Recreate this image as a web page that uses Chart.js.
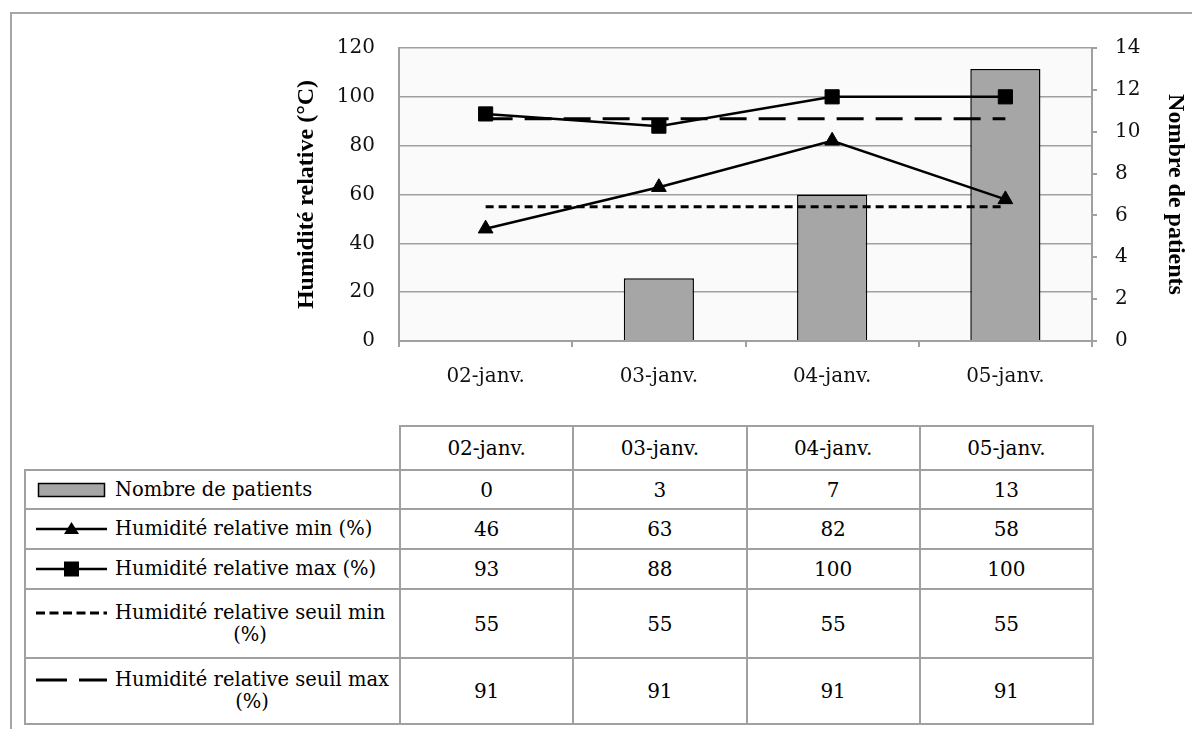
<!DOCTYPE html>
<html>
<head>
<meta charset="utf-8">
<script src="https://cdn.jsdelivr.net/npm/chart.js@4/dist/chart.umd.min.js"></script>
<style>
html,body{margin:0;padding:0;background:#fff;}
#wrap{position:relative;width:1192px;height:729px;overflow:hidden;background:#fff;}
#frame{position:absolute;left:10px;top:12px;width:1300px;height:900px;border:2px solid #a6a6a6;box-sizing:border-box;}
#cv{position:absolute;left:0;top:0;}
#tbl{position:absolute;left:24px;top:425px;border-collapse:collapse;table-layout:fixed;font-family:'DejaVu Serif',serif;font-size:20px;color:#000;}
#tbl td{border:2px solid #a0a0a0;padding:0;text-align:center;vertical-align:middle;white-space:nowrap;}
#tbl td.blank{border:none;}
#tbl td.leg{text-align:left;font-size:19.5px;}
.legbox{display:flex;align-items:flex-start;padding-left:10px;}
.key{width:71px;height:22px;flex:none;margin-right:8px;}
.ltxt{display:inline-block;white-space:nowrap;text-align:center;line-height:22px;}
</style>
</head>
<body>
<div id="wrap">
  <div id="frame"></div>
  <canvas id="cv" width="1192" height="400" style="width:1192px;height:400px"></canvas>
  <table id="tbl"></table>
</div>
<script>
// ---- data ----
const categories = ['02-janv.', '03-janv.', '04-janv.', '05-janv.'];
const patients = [0, 3, 7, 13];
const humMin = [46, 63, 82, 58];
const humMax = [93, 88, 100, 100];
const seuilMin = [55, 55, 55, 55];
const seuilMax = [91, 91, 91, 91];
const seriesNames = ['Nombre de patients', 'Humidité relative min (%)', 'Humidité relative max (%)', 'Humidité relative seuil min (%)', 'Humidité relative seuil max (%)'];
const leftTitle = 'Humidité relative (°C)';
const rightTitle = 'Nombre de patients';
const leftRange = [0, 120, 20];
const rightRange = [0, 14, 2];

const tickFont = {family: "'DejaVu Serif', serif", size: 20};
const titleFont = {family: "'Liberation Serif', serif", size: 24, weight: 'bold'};
const gridGray = '#a0a0a0';

const bgPlugin = {
  id: 'plotbg',
  beforeDraw(chart) {
    const {ctx, chartArea: a} = chart;
    ctx.save();
    ctx.fillStyle = '#fafafa';
    ctx.fillRect(a.left, a.top, a.right - a.left, a.bottom - a.top);
    ctx.restore();
  }
};

const chart = new Chart(document.getElementById('cv'), {
  type: 'bar',
  data: {
    labels: categories,
    datasets: [
      {type: 'bar', label: seriesNames[0], data: patients, yAxisID: 'y1', order: 10,
       backgroundColor: '#a6a6a6', borderColor: '#000', borderWidth: 1.5,
       categoryPercentage: 1, barPercentage: 0.405},
      {type: 'line', label: seriesNames[1], data: humMin, yAxisID: 'y', order: 1,
       borderColor: '#000', borderWidth: 2.5, pointStyle: 'triangle', pointRadius: 8.5,
       pointBackgroundColor: '#000', pointBorderColor: '#000', pointBorderWidth: 1, tension: 0},
      {type: 'line', label: seriesNames[2], data: humMax, yAxisID: 'y', order: 1,
       borderColor: '#000', borderWidth: 2.5, pointStyle: 'rect', pointRadius: 10,
       pointBackgroundColor: '#000', pointBorderColor: '#000', pointBorderWidth: 1, tension: 0},
      {type: 'line', label: seriesNames[3], data: seuilMin, yAxisID: 'y', order: 2,
       borderColor: '#000', borderWidth: 3, borderDash: [8, 5], pointRadius: 0, tension: 0},
      {type: 'line', label: seriesNames[4], data: seuilMax, yAxisID: 'y', order: 2,
       borderColor: '#000', borderWidth: 3, borderDash: [27, 12], pointRadius: 0, tension: 0}
    ]
  },
  options: {
    responsive: false,
    animation: false,
    events: [],
    devicePixelRatio: 1,
    layout: {padding: {left: 292, right: 2, top: 48, bottom: 0}},
    plugins: {legend: {display: false}, tooltip: {enabled: false}},
    scales: {
      x: {
        type: 'category', offset: true,
        grid: {offset: true, drawOnChartArea: false, drawTicks: true, tickLength: 6, color: gridGray, lineWidth: 2},
        border: {display: true, color: gridGray, width: 2},
        ticks: {font: tickFont, color: '#111', padding: 18, maxRotation: 0},
        afterFit(s) { s.height = 59; }
      },
      y: {
        position: 'left', min: leftRange[0], max: leftRange[1],
        ticks: {stepSize: leftRange[2], font: tickFont, color: '#111', padding: 24},
        grid: {color: gridGray, lineWidth: 1.5, drawTicks: false},
        border: {display: true, color: gridGray, width: 2},
        title: {display: true, text: leftTitle, font: titleFont, color: '#000', padding: 0},
        afterFit(s) { s.width = 107; }
      },
      y1: {
        position: 'right', min: rightRange[0], max: rightRange[1],
        ticks: {stepSize: rightRange[2], font: tickFont, color: '#111', padding: 18},
        grid: {drawOnChartArea: false, drawTicks: true, tickLength: 5, color: gridGray, lineWidth: 2},
        border: {display: true, color: gridGray, width: 2},
        title: {display: true, text: rightTitle, font: titleFont, color: '#000', padding: 0},
        afterFit(s) { s.width = 98; }
      }
    }
  },
  plugins: [bgPlugin]
});

// ---- data table below the chart ----
function keySvg(i) {
  const w = 71, h = 22, cy = 11;
  let s = `<svg class="key" width="${w}" height="${h}" viewBox="0 0 ${w} ${h}" xmlns="http://www.w3.org/2000/svg">`;
  if (i === 0) {
    s += `<rect x="2.5" y="4.5" width="66" height="13" fill="#a6a6a6" stroke="#000" stroke-width="1.5"/>`;
  } else if (i === 1) {
    s += `<line x1="0" y1="${cy}" x2="${w}" y2="${cy}" stroke="#000" stroke-width="2.5"/>`;
    s += `<polygon points="35.5,4 43,16 28,16" fill="#000"/>`;
  } else if (i === 2) {
    s += `<line x1="0" y1="${cy}" x2="${w}" y2="${cy}" stroke="#000" stroke-width="2.5"/>`;
    s += `<rect x="28" y="3.5" width="15" height="15" fill="#000"/>`;
  } else if (i === 3) {
    s += `<line x1="0" y1="${cy}" x2="${w}" y2="${cy}" stroke="#000" stroke-width="3" stroke-dasharray="9 4.5"/>`;
  } else {
    s += `<line x1="0" y1="${cy}" x2="${w}" y2="${cy}" stroke="#000" stroke-width="3" stroke-dasharray="31 12"/>`;
  }
  return s + '</svg>';
}

const xs = chart.scales.x;
const step = xs.getPixelForTick(1) - xs.getPixelForTick(0);
const firstLeft = xs.getPixelForTick(0) - step / 2;
const tableLeft = 24;
const legendWidth = firstLeft - tableLeft;
const rowHeights = [44, 39, 40, 40, 69, 66];
const seriesValues = [patients, humMin, humMax, seuilMin, seuilMax];

const tbl = document.getElementById('tbl');
let html = '<colgroup><col style="width:' + legendWidth + 'px">';
categories.forEach(() => { html += '<col style="width:' + step + 'px">'; });
html += '</colgroup>';
html += '<tr style="height:' + rowHeights[0] + 'px"><td class="blank"></td>';
categories.forEach(c => { html += '<td>' + c + '</td>'; });
html += '</tr>';
seriesNames.forEach((name, i) => {
  let label = name;
  if (name.length > 27) {
    const k = name.lastIndexOf(' ');
    label = name.slice(0, k) + '<br>' + name.slice(k + 1);
  }
  html += '<tr style="height:' + rowHeights[i + 1] + 'px"><td class="leg"><div class="legbox">' +
          keySvg(i) + '<span class="ltxt">' + label + '</span></div></td>';
  seriesValues[i].forEach(v => { html += '<td>' + v + '</td>'; });
  html += '</tr>';
});
tbl.innerHTML = html;
</script>
</body>
</html>
